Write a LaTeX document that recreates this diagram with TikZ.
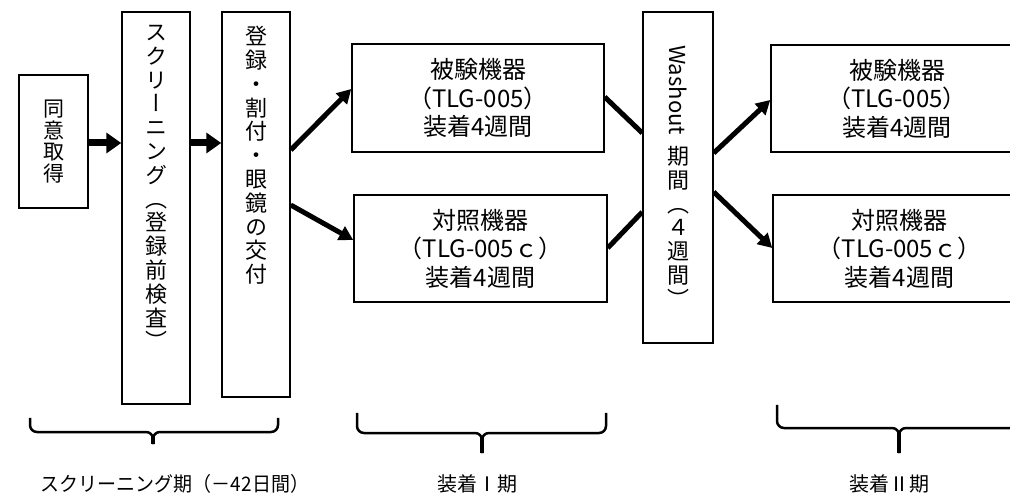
\documentclass[tikz,border=0pt]{standalone}
\usepackage{fontspec}
\setmainfont{Noto Sans CJK JP}
\newfontfamily\vjp[RawFeature={+vert}]{Noto Sans CJK JP}
\usetikzlibrary{arrows.meta,calc}
\begin{document}
\begin{tikzpicture}[x=1pt,y=-1pt,
 box/.style={draw, line width=1.5pt, inner sep=0pt, align=center, font=\fontsize{24}{28.5}\selectfont},
 vtext/.style={inner sep=0pt, align=center, font=\vjp\fontsize{22}{23.8}\selectfont, anchor=north},
 harrow/.style={line width=7pt, -{Triangle[length=15pt,width=20pt]}},
 darrow/.style={line width=5pt, -{Triangle[length=14pt,width=15pt]}},
 dline/.style={line width=5pt},
 brace/.style={line width=2.5pt, rounded corners=7pt},
 lbl/.style={inner sep=0pt, font=\fontsize{20}{24}\selectfont}
]
\clip (0,0) rectangle (1010,494);
\fill[white] (0,0) rectangle (1010,494);

% boxes
\node[box, minimum width=69pt, minimum height=133pt] (consent) at (53.5,141.5) {};
\node[vtext, font=\vjp\fontsize{21}{21.8}\selectfont, anchor=center] (consentT) at (consent.center) {同\\意\\取\\得};

\node[box, minimum width=68pt, minimum height=392pt] (screen) at (156,208) {};
\node[vtext] (screenT) at (156,25) {ス\\ク\\リ\\ー\\ニ\\ン\\グ\\（\\登\\録\\前\\検\\査\\）};

\node[box, minimum width=68pt, minimum height=385pt] (reg) at (256,204.5) {};
\node[vtext] (regT) at (256,26) {登\\録\\・\\割\\付\\・\\眼\\鏡\\の\\交\\付};

\node[box, minimum width=252pt, minimum height=108pt] (testA) at (478,98) {被験機器\\（TLG-005）\\装着4週間};
\node[box, minimum width=253pt, minimum height=107pt] (ctrlA) at (480.5,248.5) {対照機器\\（TLG-005ｃ）\\装着4週間};

\node[box, minimum width=70pt, minimum height=331pt] (wash) at (678,177.5) {};
\node[inner sep=0pt, rotate=-90, font=\fontsize{22}{24}\selectfont] (washW) at (678,90) {Washout};
\node[vtext] (washT) at (678,146) {期\\間\\（\\４\\週\\間\\）};

\node[box, minimum width=252pt, minimum height=107pt] (testB) at (897,98.5) {被験機器\\（TLG-005）\\装着4週間};
\node[box, minimum width=253pt, minimum height=107pt] (ctrlB) at (899.5,248.5) {対照機器\\（TLG-005ｃ）\\装着4週間};

% arrows
\draw[harrow] (consent.east |- 0,143) -- (screen.west |- 0,143);
\draw[harrow] (screen.east |- 0,143) -- (reg.west |- 0,143);
\draw[darrow] (reg.east |- 0,150) -- (testA.west |- 0,89);
\draw[darrow] (reg.east |- 0,205) -- (ctrlA.west |- 0,240);
\draw[dline] (testA.east |- 0,97) -- (wash.west |- 0,133);
\draw[dline] (ctrlA.east |- 0,248) -- (wash.west |- 0,212);
\draw[darrow] (wash.east |- 0,153) -- (testB.west |- 0,100);
\draw[darrow] (wash.east |- 0,192) -- (ctrlB.west |- 0,248);

% braces
\draw[brace] (30,418) -- (30,432) -- (153,432) -- (153,444);
\draw[brace] (278,418) -- (278,432) -- (153,432) -- (153,444);
\draw[line width=3.5pt] (153,436) -- (153,444);
\draw[brace] (357,413) -- (357,433) -- (482,433) -- (482,453);
\draw[brace] (606,413) -- (606,433) -- (482,433) -- (482,453);
\draw[line width=3.5pt] (482,437) -- (482,453);
\draw[brace] (777,405) -- (777,428) -- (899,428) -- (899,453);
\draw[brace] (1021,405) -- (1021,428) -- (899,428) -- (899,453);
\draw[line width=3.5pt] (899,432) -- (899,453);

% labels
\node[lbl] (l1) at (175,484) {\scalebox{0.95}[1]{スクリーニング期（－42日間）}};
\node[lbl] (l2) at (477,484) {装着Ⅰ期};
\node[lbl] (l3) at (889,484) {装着Ⅱ期};
\end{tikzpicture}
\end{document}
